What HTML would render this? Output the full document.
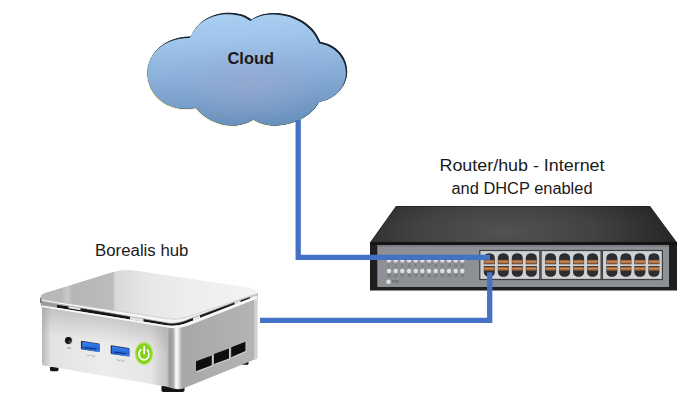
<!DOCTYPE html>
<html><head><meta charset="utf-8"><title>Network diagram</title>
<style>
html,body{margin:0;padding:0;background:#fff;}
body{width:700px;height:418px;overflow:hidden;font-family:"Liberation Sans",sans-serif;}
svg{display:block}
text{font-family:"Liberation Sans",sans-serif;fill:#1a1a1a}
</style></head><body>
<svg width="700" height="418" viewBox="0 0 700 418">
<defs>
<linearGradient id="cloudg" x1="0.44" y1="0" x2="0.56" y2="1">
<stop offset="0" stop-color="#a8cef1"/><stop offset="0.2" stop-color="#a1c6ec"/><stop offset="0.5" stop-color="#8cb1da"/><stop offset="1" stop-color="#668fb9"/>
</linearGradient>
<radialGradient id="cloudr" cx="0.52" cy="0.62" r="0.35">
<stop offset="0" stop-color="#a0a8d0" stop-opacity="0.55"/><stop offset="1" stop-color="#a0a8d0" stop-opacity="0"/>
</radialGradient>
<filter id="blur1" x="-10%" y="-10%" width="120%" height="120%"><feGaussianBlur stdDeviation="0.6"/></filter>
<linearGradient id="swtop" x1="0" y1="0" x2="0" y2="1"><stop offset="0" stop-color="#2a2a2a"/><stop offset="1" stop-color="#1c1c1c"/></linearGradient>
<linearGradient id="lidg" gradientUnits="userSpaceOnUse" x1="40" y1="0" x2="258" y2="0">
<stop offset="0" stop-color="#b6b6b6"/><stop offset="0.10" stop-color="#b9b9b9"/><stop offset="0.125" stop-color="#c9c9c9"/><stop offset="0.15" stop-color="#b6b6b6"/><stop offset="0.335" stop-color="#bcbcbc"/><stop offset="0.345" stop-color="#d8d8d8"/><stop offset="0.5" stop-color="#e7e7e7"/><stop offset="0.7" stop-color="#eeeeee"/><stop offset="1" stop-color="#f3f3f3"/>
</linearGradient>
<linearGradient id="lidfront" gradientUnits="userSpaceOnUse" x1="100" y1="309" x2="97" y2="292">
<stop offset="0" stop-color="#fff" stop-opacity="0.75"/><stop offset="0.5" stop-color="#fff" stop-opacity="0.25"/><stop offset="1" stop-color="#fff" stop-opacity="0"/>
</linearGradient>
<linearGradient id="frontshade" gradientUnits="userSpaceOnUse" x1="100" y1="315" x2="96" y2="342">
<stop offset="0" stop-color="#9a9a9a" stop-opacity="0.45"/><stop offset="1" stop-color="#9a9a9a" stop-opacity="0"/>
</linearGradient>
<linearGradient id="frontg" x1="0" y1="0" x2="1" y2="0">
<stop offset="0" stop-color="#b8b8b8"/><stop offset="0.035" stop-color="#cdcdcd"/><stop offset="0.07" stop-color="#e3e3e3"/><stop offset="0.5" stop-color="#ececec"/><stop offset="0.85" stop-color="#e6e6e6"/><stop offset="1" stop-color="#bdbdbd"/>
</linearGradient>
<linearGradient id="cornerg" x1="0" y1="0" x2="1" y2="0">
<stop offset="0" stop-color="#c6c6c6"/><stop offset="0.15" stop-color="#9c9c9c"/><stop offset="0.4" stop-color="#a6a6a6"/><stop offset="0.58" stop-color="#fbfbfb"/><stop offset="0.72" stop-color="#ededed"/><stop offset="0.88" stop-color="#bcbcbc"/><stop offset="1" stop-color="#a8a8a8"/>
</linearGradient>
<linearGradient id="sideg" x1="0" y1="0" x2="1" y2="0">
<stop offset="0" stop-color="#a8a8a8"/><stop offset="1" stop-color="#b4b4b4"/>
</linearGradient>
<linearGradient id="usbg" x1="0" y1="0" x2="0" y2="1"><stop offset="0" stop-color="#2f7be6"/><stop offset="0.55" stop-color="#2a6fd8"/><stop offset="0.6" stop-color="#123c8c"/><stop offset="1" stop-color="#1d55b8"/></linearGradient>
<path id="cloudp" d="M191,36.5 C198,20 214,12.5 230,12.8 C240,13 247,16 251.5,19.5 C258,15 266,12.8 275,13 C296,13.5 314,25 320.5,42 C335,44 347.5,56 347.2,72 C346.8,87 335,99 319,102 C312,116 294,125.5 274,125.5 C266,125.5 259,123 253.5,119.5 C248,123 241,125.5 233,125.5 C218,125.5 204,118 196,108 C192,108.6 188,109 184,108.8 C163,108 147.5,92 147.5,73 C147.5,53 166,36 191,36.5 Z"/>
<clipPath id="cloudclip"><use href="#cloudp"/></clipPath>
<filter id="blur2" x="-5%" y="-5%" width="110%" height="110%"><feGaussianBlur stdDeviation="0.5"/></filter>
<radialGradient id="swtopr" gradientUnits="userSpaceOnUse" cx="505" cy="232" r="200" gradientTransform="translate(505,232) scale(1,0.3) translate(-505,-232)">
<stop offset="0" stop-color="#525252"/><stop offset="0.45" stop-color="#424242"/><stop offset="0.8" stop-color="#2a2a2a"/><stop offset="1" stop-color="#1a1a1a"/>
</radialGradient>
<filter id="blur3" x="-5%" y="-20%" width="110%" height="140%"><feGaussianBlur stdDeviation="0.35"/></filter>
<linearGradient id="usbg2" x1="0" y1="0" x2="0" y2="1"><stop offset="0" stop-color="#3f86f2"/><stop offset="0.45" stop-color="#2a6ee0"/><stop offset="0.7" stop-color="#2261cf"/><stop offset="1" stop-color="#4d8ff0"/></linearGradient>
</defs>

<!-- Cloud -->
<g>
<use href="#cloudp" fill="#f1edc9" transform="translate(-0.9,0.9)"/>
<use href="#cloudp" fill="#1b2430" filter="url(#blur1)"/>
<g clip-path="url(#cloudclip)">
<use href="#cloudp" fill="#1b2430"/>
<g filter="url(#blur2)">
<use href="#cloudp" fill="url(#cloudg)" transform="translate(-1.3,1.4)"/>
<use href="#cloudp" fill="url(#cloudr)" transform="translate(-1.3,1.4)"/>
</g>
</g>
<text x="227.5" y="63.5" font-size="15.8" font-weight="bold" textLength="46.5" lengthAdjust="spacingAndGlyphs" fill="#0a0a14">Cloud</text>
</g>

<!-- Switch -->
<g>
<polygon points="396,206 650,206 677,242.5 677,290.5 370,290.5 370,242.5" fill="#1e1e1e"/>
<polygon points="396,206.5 650,206.5 676,242 371,242" fill="url(#swtopr)"/>
<rect x="370" y="242" width="307" height="3" fill="#141414"/>
<rect x="377.3" y="245" width="291.7" height="42" fill="#8d9094"/>
<rect x="377.3" y="245" width="291.7" height="2" fill="#7b7e82"/>
<g fill="#dfe0e1" filter="url(#blur3)">
<circle cx="389" cy="260.4" r="2.2"/><circle cx="395.7" cy="260.4" r="2.2"/><circle cx="402.3" cy="260.4" r="2.2"/><circle cx="409" cy="260.4" r="2.2"/><circle cx="415.7" cy="260.4" r="2.2"/><circle cx="422.3" cy="260.4" r="2.2"/><circle cx="429" cy="260.4" r="2.2"/><circle cx="435.7" cy="260.4" r="2.2"/><circle cx="442.3" cy="260.4" r="2.2"/><circle cx="449" cy="260.4" r="2.2"/><circle cx="455.7" cy="260.4" r="2.2"/><circle cx="462.3" cy="260.4" r="2.2"/>
<circle cx="389" cy="271" r="2.2"/><circle cx="395.7" cy="271" r="2.2"/><circle cx="402.3" cy="271" r="2.2"/><circle cx="409" cy="271" r="2.2"/><circle cx="415.7" cy="271" r="2.2"/><circle cx="422.3" cy="271" r="2.2"/><circle cx="429" cy="271" r="2.2"/><circle cx="435.7" cy="271" r="2.2"/><circle cx="442.3" cy="271" r="2.2"/><circle cx="449" cy="271" r="2.2"/><circle cx="455.7" cy="271" r="2.2"/><circle cx="462.3" cy="271" r="2.2"/>
<circle cx="388.5" cy="281.7" r="2.2"/>
</g>
<g font-size="3.2" fill="#c9cbce" text-anchor="middle" opacity="0.5">
<text x="389" y="267" fill="#c9cbce">1</text><text x="395.7" y="267" fill="#c9cbce">2</text><text x="402.3" y="267" fill="#c9cbce">3</text><text x="409" y="267" fill="#c9cbce">4</text><text x="415.7" y="267" fill="#c9cbce">5</text><text x="422.3" y="267" fill="#c9cbce">6</text><text x="429" y="267" fill="#c9cbce">7</text><text x="435.7" y="267" fill="#c9cbce">8</text><text x="442.3" y="267" fill="#c9cbce">9</text><text x="449" y="267" fill="#c9cbce">10</text><text x="455.7" y="267" fill="#c9cbce">11</text><text x="462.3" y="267" fill="#c9cbce">12</text>
<text x="389" y="277.2" fill="#c9cbce">13</text><text x="395.7" y="277.2" fill="#c9cbce">14</text><text x="402.3" y="277.2" fill="#c9cbce">15</text><text x="409" y="277.2" fill="#c9cbce">16</text><text x="415.7" y="277.2" fill="#c9cbce">17</text><text x="422.3" y="277.2" fill="#c9cbce">18</text><text x="429" y="277.2" fill="#c9cbce">19</text><text x="435.7" y="277.2" fill="#c9cbce">20</text><text x="442.3" y="277.2" fill="#c9cbce">21</text><text x="449" y="277.2" fill="#c9cbce">22</text><text x="455.7" y="277.2" fill="#c9cbce">23</text><text x="462.3" y="277.2" fill="#c9cbce">24</text>
<text x="395.5" y="282.8" fill="#c9cbce">PWR</text>
</g>
<!-- port blocks -->
<g id="pb1">
<rect x="479.2" y="249.9" width="61.2" height="30.2" fill="#3c3e40"/>
<rect x="480.4" y="251.1" width="58.8" height="27.8" fill="#cfd1d3"/>
<g id="prt">
<path d="M483.8,264.3 V258.5 C483.8,254.8 486,253.2 489.3,253.2 C492.6,253.2 494.8,254.8 494.8,258.5 V264.3 Z" fill="#2b2d2f"/>
<path d="M483.8,266 V271.5 C483.8,275.2 486,276.8 489.3,276.8 C492.6,276.8 494.8,275.2 494.8,271.5 V266 Z" fill="#2b2d2f"/>
<rect x="484.2" y="259.9" width="10.2" height="3.8" fill="#a4653a"/><rect x="484.2" y="261.3" width="10.2" height="1" fill="#cf9763"/>
<rect x="484.2" y="266.8" width="10.2" height="3.8" fill="#a4653a"/><rect x="484.2" y="268.2" width="10.2" height="1" fill="#cf9763"/>
</g>
<use href="#prt" x="14"/><use href="#prt" x="28"/><use href="#prt" x="42"/>
</g>
<use href="#pb1" x="61.3"/><use href="#pb1" x="122.6"/>
</g>

<!-- connector lines -->
<g fill="none" stroke="#4472c4" stroke-width="5.3" stroke-linejoin="miter">
<polyline points="298.2,120 298.2,257.4 490,257.4"/>
<polyline points="260,320.3 489.7,320.3 489.7,272.2"/>
</g>

<!-- labels -->
<text x="439.5" y="170.5" font-size="16" textLength="165" lengthAdjust="spacingAndGlyphs">Router/hub - Internet</text>
<text x="451.5" y="193.6" font-size="16" textLength="141" lengthAdjust="spacingAndGlyphs">and DHCP enabled</text>
<text x="95.1" y="255.7" font-size="16" textLength="93.3" lengthAdjust="spacingAndGlyphs">Borealis hub</text>

<!-- mini PC -->
<g>
<!-- feet -->
<path d="M50,367 h8.5 v2.8 q0,1.5 -1.5,1.5 h-5.5 q-1.5,0 -1.5,-1.5 Z" fill="#141414"/>
<path d="M161.5,386 h23 v4.2 q0,1.8 -1.8,1.8 h-19.4 q-1.8,0 -1.8,-1.8 Z" fill="#141414"/>
<path d="M241.5,360.5 h7 v3 q0,1.2 -1.2,1.2 h-4.6 q-1.2,0 -1.2,-1.2 Z" fill="#141414"/>
<!-- right face -->
<path d="M182,326 L257.3,296 L257.3,358.5 L182,389 Z" fill="url(#sideg)"/>
<path d="M254.3,297.5 L257.3,296.2 L257.3,358.5 L254.3,359.7 Z" fill="#d2d2d2"/>
<!-- front face -->
<path d="M42,303 L170,324 L170,387.3 L44,365.6 Q42,365.2 42,363 Z" fill="url(#frontg)"/>
<path d="M42,303 L170,324 L170,387.3 L44,365.6 Q42,365.2 42,363 Z" fill="url(#frontshade)"/>
<!-- corner -->
<path d="M167,324 L182.5,325 L182.5,388.8 Q175,390 167,386.8 Z" fill="url(#cornerg)"/>
<!-- gap under lid -->
<path d="M40.7,299 L168,319 Q177.7,320.6 188,317 L257.5,293 L257.3,297.4 L190,321.8 Q178,327 166,325.3 L41,305.2 Z" fill="#161616"/>
<!-- lighter parts / tabs in gap -->
<g fill="#e6e6e6">
<path d="M40.7,299 L57,301.6 L57,307.8 L41,305.2 Z" fill="#9b9b9b"/>
<path d="M57,301.6 L68.5,303.4 L68.5,306.6 L57,304.8 Z" fill="#b9b9b9"/>
<path d="M68.5,303.4 L80.5,305.3 L80.5,310.2 L68.5,308.3 Z"/>
<path d="M130,314 L143.5,316.2 L143.5,321.8 L130,319.6 Z"/>
<path d="M193,316 L200,313.4 L200,318.2 L193,320.8 Z"/>
<path d="M234.5,300.8 L240.5,298.7 L240.5,302.4 L234.5,304.7 Z"/>
<path d="M250,295.5 L257.5,293 L257.3,297.4 L250,299.9 Z" fill="#cfcfcf"/>
<path d="M240.5,298.7 L250,295.5 L250,297 L240.5,300.3 Z" fill="#cfcfcf"/>
</g>
<!-- body top highlight -->
<path d="M42,305.3 L166,325.3 Q178,327 190,321.8 L257.3,295.6 L257.3,298.4 L190,325 Q178,330 166,327.2 L42,306.9 Z" fill="#f7f7f7"/>
<!-- lid rim -->
<path d="M40.7,297 L168,318.8 Q177.7,320.4 188,316.8 L257.5,292.4 L257.5,293.6 L190,318.8 Q178,324.4 168,323 L40.7,301 Z" fill="#f6f6f6"/>
<path d="M40.7,301 L168,323 Q178,324.4 190,318.8 L257.5,293.6" fill="none" stroke="#9c9c9c" stroke-width="0.7"/>
<path d="M40.3,297.5 L41.5,297.9 L41.5,303 L40.3,302.6 Z" fill="#4a4a4a"/>
<!-- lid top -->
<path id="lidp" d="M40.8,297.2 Q40.5,294.8 44,293.5 L112,272.5 Q120,270 128,269.9 L140,271.4 L246,287.3 Q256,289.2 257.3,292 Q257.5,293.4 254.5,294.5 L188,316.8 Q177.7,320.4 168,318.8 L43.5,299.7 Q41,299.2 40.8,297.2 Z" fill="url(#lidg)"/>
<use href="#lidp" fill="url(#lidfront)"/>
<path d="M43.5,299.7 L168,318.8 Q177.7,320.4 188,316.8 L254.5,294.5" fill="none" stroke="#c6c6c6" stroke-width="0.7"/>
<!-- vents -->
<g>
<polygon points="196.6,362 212.8,356 212.8,366.2 196.6,372.4" fill="#d2d2d2"/>
<polygon points="214.6,354.7 230,349.2 230,359.3 214.6,365" fill="#d2d2d2"/>
<polygon points="231.8,347.9 246.4,342.4 246.4,352 231.8,358" fill="#d2d2d2"/>
<polygon points="196,361.3 211.8,355.5 211.8,365.3 196,371.3" fill="#0e0e0e"/>
<polygon points="214,354 229,348.6 229,358.4 214,364" fill="#0e0e0e"/>
<polygon points="231.2,347.2 245.5,341.7 245.5,351 231.2,357.2" fill="#0e0e0e"/>
</g>
<!-- audio jack -->
<circle cx="68.6" cy="340.8" r="4.6" fill="#d6d6d6"/><circle cx="68.4" cy="340.5" r="3.4" fill="#121212"/><circle cx="69.6" cy="341.8" r="1.2" fill="#555"/>
<path d="M67.6,349 a1.4,1.4 0 1 1 2.8,0" fill="none" stroke="#6a6a6a" stroke-width="0.6"/>
<!-- usb -->
<g id="usbp">
<path d="M80.8,339.5 L99.6,342.4 Q100.5,342.6 100.5,343.5 L100.5,352.3 Q100.5,353.3 99.5,353.1 L80.8,350.2 Q79.8,350 79.8,349 L79.8,340.4 Q79.8,339.4 80.8,339.5 Z" fill="#f0eadb"/>
<path d="M81.6,340.7 L99,343.4 Q99.6,343.5 99.6,344.2 L99.6,351.4 Q99.6,352.1 99,352 L81.6,349.3 Q80.9,349.2 80.9,348.5 L80.9,341.3 Q80.9,340.6 81.6,340.7 Z" fill="#1b3474"/>
<path d="M82.3,341.7 L99.6,344.3 L99.6,351.4 Q99.6,352.1 99,352 L82.3,349.4 Z" fill="url(#usbg2)"/>
<path d="M84.5,346.9 L96,348.7 L96,349.7 L84.5,347.9 Z" fill="#132d6e"/>
<path d="M86.8,355.3 l4.2,0.6 m0.6,-1.2 l1.8,2.6 l1.6,-2.4" fill="none" stroke="#8a8a8a" stroke-width="0.55"/>
</g>
<use href="#usbp" x="29.8" y="4.6"/>
<!-- power -->
<ellipse cx="144" cy="353.6" rx="9" ry="11.3" fill="#a3df47"/>
<ellipse cx="144" cy="353.6" rx="7.7" ry="9.9" fill="#85d01f"/>
<path d="M140.9,349.6 A5,5.7 0 1 0 147.3,349.9" fill="none" stroke="#fff" stroke-width="1.7" stroke-linecap="round"/>
<line x1="144.2" y1="346.6" x2="144.2" y2="353.4" stroke="#fff" stroke-width="1.7" stroke-linecap="round"/>
</g>
</svg>
</body></html>
